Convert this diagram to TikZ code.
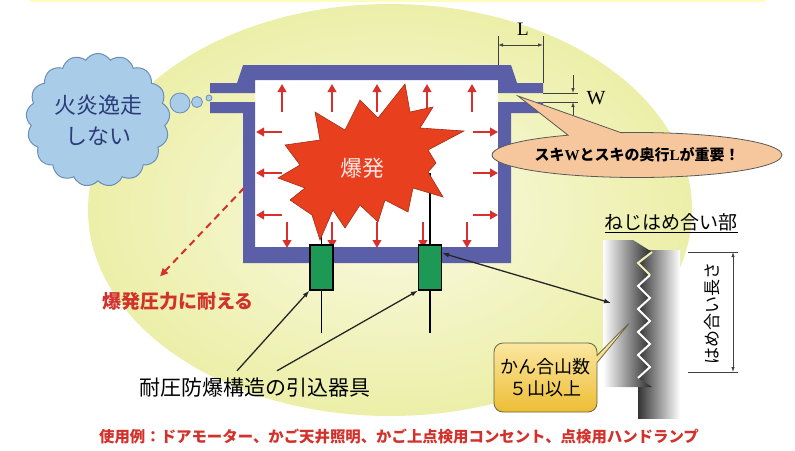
\documentclass[tikz,border=0pt]{standalone}
\usepackage{fontspec}
\setmainfont{Noto Sans CJK JP}
\newfontfamily\romanfont{Liberation Serif}
\usetikzlibrary{arrows.meta,positioning,shapes.symbols,shapes.callouts}

\definecolor{halo}{HTML}{ECEFA8}
\definecolor{halolight}{HTML}{FAFAE4}
\definecolor{wallblue}{HTML}{5B5FA8}
\definecolor{pushred}{HTML}{D8302C}
\definecolor{burstred}{HTML}{E8401F}
\definecolor{glandgreen}{HTML}{1E9955}
\definecolor{cloudblue}{HTML}{A9CDE8}
\definecolor{cloudline}{HTML}{6B8DB8}
\definecolor{cloudtext}{HTML}{2B3C7A}
\definecolor{peach}{HTML}{F6C79C}
\definecolor{goldlight}{HTML}{FFF4C4}
\definecolor{golddark}{HTML}{EDBE34}
\definecolor{notered}{HTML}{D2322C}

\tikzset{
  push/.style={draw=pushred, line width=2.6pt, arrows=-{Triangle[length=8pt,width=8.5pt]}},
  gland/.style={draw=black, line width=1.2pt, fill=glandgreen, minimum width=23pt, minimum height=45pt, inner sep=0pt},
  wire/.style={draw=black, line width=1.5pt},
  pointer/.style={draw=black!85, line width=1.3pt, arrows=-{Latex[length=7pt,width=5pt]}},
  dim/.style={draw=black!75, line width=0.8pt},
  dimarrow/.style={dim, arrows=-{Latex[length=5pt,width=3.5pt]}},
}

\begin{document}
\begin{tikzpicture}[x=1pt, y=-1pt]
    \useasboundingbox[fill=white] (0,0) rectangle (795,450);
    \draw[yellow!25, line width=1.5pt] (30,1) -- (765,1);

    % background halo
    \shade[inner color=halolight, outer color=halo] (390,210) ellipse [x radius=302pt, y radius=206pt];

    % enclosure: inside, lid and body
    \fill[white] (255,80) rectangle (498,247);
    \fill[wallblue] (210,83) -- (237,83) -- (243,65) -- (511,65) -- (517,83) -- (543,83) -- (543,93) -- (498,93) -- (498,80) -- (255,80) -- (255,93) -- (210,93) -- cycle;
    \fill[wallblue] (210,102) -- (255,102) -- (255,247) -- (498,247) -- (498,102) -- (543,102) -- (543,113) -- (511,113) -- (511,263) -- (243,263) -- (243,113) -- (210,113) -- cycle;

    % pressure on the walls
    \foreach \x in {282,332,377,427,472} \draw[push] (\x,112) -- (\x,84);
    \foreach \x in {287,332,377,423,467} \draw[push] (\x,222) -- (\x,248);
    \foreach \y in {132,173,215} {
        \draw[push] (282,\y) -- (256,\y);
        \draw[push] (473,\y) -- (498,\y);
    }

    % cable glands
    \node[gland] (glandL) at (321.5,267.5) {};
    \node[gland] (glandR) at (430,267.5) {};
    \draw[wire] (glandL.south) -- ++(0,42);
    \draw[wire] (glandR.south) -- ++(0,42);
    \draw[wire] (glandL.north) -- (321.5,205);
    \draw[wire] (glandR.north) |- (414,174);

    % explosion
    \filldraw[fill=burstred, draw=burstred!70!black, line width=0.6pt]
        (405,84) -- (410,112) -- (433,107) -- (420,128) -- (464,131) -- (428,150) -- (436,163) -- (428,172)
        -- (443,197) -- (413,188) -- (408,212) -- (385,200) -- (378,222) -- (360,205) -- (345,228) -- (333,210)
        -- (320,240) -- (312,215) -- (290,200) -- (305,188) -- (278,178) -- (300,165) -- (285,145) -- (320,140)
        -- (315,112) -- (345,130) -- (360,100) -- (378,118) -- cycle;
    \node[text=red!10!white, font=\fontsize{22}{24}\selectfont] (boom) at (362,168) {爆発};

    % flame does not escape
    \node[cloud, cloud puffs=17, cloud puff arc=115, aspect=1.1, fill=cloudblue, draw=cloudline, line width=1pt,
          minimum width=128pt, minimum height=112pt, align=center, text=cloudtext,
          font=\fontsize{22}{31}\selectfont] (cloud) at (98,120) {火炎逸走\\しない};
    \filldraw[fill=cloudblue, draw=cloudline, line width=0.8pt] (180,103) circle[radius=10pt];
    \filldraw[fill=cloudblue, draw=cloudline, line width=0.8pt] (197,102) circle[radius=5.5pt];
    \filldraw[fill=cloudblue, draw=cloudline, line width=0.8pt] (209,98) circle[radius=3pt];

    % withstands the pressure
    \node[text=notered, font=\fontsize{19}{22}\selectfont\bfseries] (press) at (178,301) {爆発圧力に耐える};
    \coordinate (wallpt) at (244,188);
    \draw[draw=notered, line width=2pt, dash pattern=on 7pt off 5pt, arrows=-{Triangle[length=8pt,width=7pt]}]
        (wallpt) -- ([xshift=-18pt,yshift=12pt]press.north);

    % gap dimensions
    \draw[dim] (498,65) -- (498,36);
    \draw[dim] (543,83) -- (543,36);
    \draw[dim, arrows={Latex[length=5pt,width=3.5pt]}-{Latex[length=5pt,width=3.5pt]}] (498,45) -- (543,45);
    \node[font=\fontsize{19}{20}\selectfont\romanfont] (lenL) at (523,29) {L};
    \draw[dim] (543,93) -- (578,93);
    \draw[dim] (543,102) -- (578,102);
    \draw[dimarrow] (573,75) -- (573,93);
    \draw[dimarrow] (573,119) -- (573,102);
    \node[font=\fontsize{20}{20}\selectfont\romanfont] (gapW) at (596,98) {W};
    \node[ellipse callout, callout absolute pointer={(518,96)}, callout pointer arc=22,
          fill=peach, draw=black!65, line width=0.8pt, minimum width=222pt, minimum height=45pt, inner sep=0pt,
          font=\fontsize{15}{17}\selectfont\bfseries] (gapnote) at (637,155)
          {スキ{\romanfont W}とスキの奥行{\romanfont L}が重要！};

    % threaded joint
    \node[font=\fontsize{19}{22}\selectfont] (joint) at (671,223) {\underline{ねじはめ合い部}};
    \shade[left color=black!80, middle color=black!70, right color=white] (638,250) rectangle (680,418);
    \shade[left color=white, middle color=black!60, right color=black!85] (603,240) -- (633,240) -- (652,252) -- (638,263) -- (650,275)
        -- (638,286) -- (650,298) -- (638,309) -- (650,321) -- (638,332) -- (650,344) -- (638,355) -- (650,367)
        -- (638,378) -- (652,387) -- (603,387) -- cycle;
    \draw[white, line width=2pt] (650,275) -- (638,286) -- (650,298) -- (638,309) -- (650,321) -- (638,332)
        -- (650,344) -- (638,355) -- (650,367) -- (638,378);
    \draw[halo!80!white, line width=2pt] (652,252) -- (638,263) -- (650,275);
    \coordinate (threadtip) at (611,303);
    \draw[dim] (688,252) -- (738,252);
    \draw[dim] (688,372) -- (738,372);
    \draw[dim, arrows={Latex[length=5pt,width=3.5pt]}-{Latex[length=5pt,width=3.5pt]}] (733,252) -- (733,372);
    \node[rotate=90, font=\fontsize{17}{18}\selectfont] (engage) at (712,313) {はめ合い長さ};
    \node[rectangle callout, rounded corners=9pt, callout absolute pointer={(632,320)},
          top color=goldlight, bottom color=golddark, draw=black!55!yellow!70!black, line width=0.8pt,
          minimum width=103pt, minimum height=69pt, align=center,
          font=\fontsize{18}{22}\selectfont] (crests) at (545.5,377.5) {かん合山数\\５山以上};

    % lead-in fittings
    \node[font=\fontsize{21}{24}\selectfont] (fitting) at (255,388) {耐圧防爆構造の引込器具};
    \draw[pointer] ([xshift=-18pt,yshift=4pt]fitting.north) -- (glandL.south west);
    \draw[pointer] ([xshift=22pt,yshift=4pt]fitting.north) -- (glandR.south west);
    \draw[pointer, arrows={Latex[length=7pt,width=5pt]}-{Latex[length=7pt,width=5pt]}] (glandR.50) -- (threadtip);

    % examples
    \node[text=notered, font=\fontsize{15.4}{18}\selectfont\bfseries] (uses) at (399,437)
        {使用例：ドアモーター、かご天井照明、かご上点検用コンセント、点検用ハンドランプ};
\end{tikzpicture}
\end{document}
